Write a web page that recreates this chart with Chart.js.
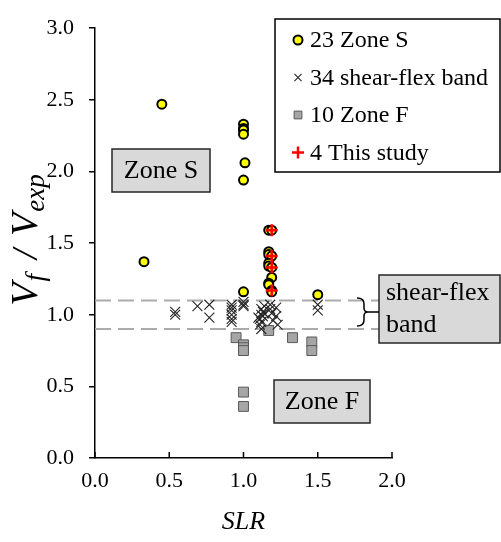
<!DOCTYPE html>
<html><head><meta charset="utf-8">
<script src="https://cdn.jsdelivr.net/npm/chart.js@4.4.1/dist/chart.umd.min.js"></script>
<style>html,body{margin:0;padding:0;background:#fff}#wrap{width:501px;height:542px;position:relative}</style>
</head><body><div id="wrap"><canvas id="c" width="501" height="542"></canvas></div>
<script>
// ---- data ----
const legendLabels = ['23 Zone S', '34 shear-flex band', '10 Zone F', '4 This study'];
const xTicks = [0.0, 0.5, 1.0, 1.5, 2.0];
const yTicks = [0.0, 0.5, 1.0, 1.5, 2.0, 2.5, 3.0];

const zoneS_x = [0.33, 0.45, 1.00, 1.00, 1.00, 1.00, 1.01, 1.00, 1.00,
                 1.17, 1.19, 1.17, 1.17, 1.19, 1.17, 1.17, 1.19, 1.19, 1.17, 1.17, 1.19, 1.19, 1.50];
const zoneS_y = [1.37, 2.47, 2.33, 2.30, 2.29, 2.26, 2.06, 1.94, 1.16,
                 1.59, 1.59, 1.44, 1.42, 1.41, 1.36, 1.34, 1.33, 1.26, 1.22, 1.21, 1.17, 1.16, 1.14];

const shear_x = [0.54, 0.54, 0.69, 0.77, 0.77,
                 0.92, 0.92, 0.92, 0.92, 0.92, 0.92,
                 1.00, 1.00, 1.00,
                 1.12, 1.13, 1.12, 1.13, 1.11, 1.12, 1.11, 1.12, 1.14, 1.14,
                 1.18, 1.18, 1.19, 1.22, 1.22, 1.23, 1.20,
                 1.50, 1.50, 1.10];
const shear_y = [1.02, 1.00, 1.06, 1.07, 0.98,
                 1.07, 1.05, 1.03, 1.00, 0.97, 0.95,
                 1.09, 1.06, 1.07,
                 1.04, 1.02, 1.00, 0.99, 0.97, 0.95, 0.93, 0.90, 1.06, 1.01,
                 1.07, 1.04, 1.01, 1.05, 0.99, 0.93, 0.96,
                 1.07, 1.03, 0.98];

const zoneF_x = [0.95, 1.00, 1.00, 1.00, 1.17, 1.33, 1.46, 1.46, 1.00, 1.00];
const zoneF_y = [0.84, 0.79, 0.77, 0.75, 0.89, 0.84, 0.81, 0.75, 0.46, 0.36];

const study_x = [1.19, 1.19, 1.19, 1.19];
const study_y = [1.59, 1.41, 1.33, 1.17];

const bandUpper = 1.1;
const bandLower = 0.9;
const bandXRange = [0.0, 1.92];

// ---- chart ----
const pts = (xs, ys) => xs.map((x, i) => ({x: x, y: ys[i]}));
const SERIF = '"Liberation Serif", "Times New Roman", serif';

const styles = [
  {pointStyle: 'circle', radius: 4.5, fill: '#ffff00', stroke: '#000000', bw: 2},
  {pointStyle: 'crossRot', radius: 7, fill: 'rgba(0,0,0,0)', stroke: '#262626', bw: 1.1},
  {pointStyle: 'rect', radius: 7, fill: '#a6a6a6', stroke: '#595959', bw: 1},
  {pointStyle: 'cross', radius: 6, fill: 'rgba(0,0,0,0)', stroke: '#ff0000', bw: 2.5}
];
const series = [pts(zoneS_x, zoneS_y), pts(shear_x, shear_y), pts(zoneF_x, zoneF_y), pts(study_x, study_y)];
const orders = [1, 2, 3, 0];

const datasets = series.map((d, i) => ({
  label: legendLabels[i], data: d, showLine: false,
  pointStyle: styles[i].pointStyle, pointRadius: styles[i].radius,
  pointBackgroundColor: styles[i].fill, pointBorderColor: styles[i].stroke,
  pointBorderWidth: styles[i].bw, order: orders[i]
}));
[bandUpper, bandLower].forEach(v => datasets.push({
  label: 'band', data: [{x: bandXRange[0], y: v}, {x: bandXRange[1], y: v}],
  showLine: true, borderColor: '#ababab', borderWidth: 2, borderDash: [16, 7],
  pointRadius: 0, order: 5
}));

function drawMarker(ctx, st, x, y, r) {
  ctx.save();
  ctx.fillStyle = st.fill; ctx.strokeStyle = st.stroke; ctx.lineWidth = st.bw;
  Chart.helpers.drawPoint(ctx, {pointStyle: st.pointStyle, radius: r, borderWidth: st.bw, rotation: 0}, x, y);
  ctx.restore();
}
function labelBox(ctx, x0, y0, x1, y1) {
  ctx.save();
  ctx.fillStyle = '#d9d9d9'; ctx.strokeStyle = '#262626'; ctx.lineWidth = 1.5;
  ctx.fillRect(x0, y0, x1 - x0, y1 - y0);
  ctx.strokeRect(x0, y0, x1 - x0, y1 - y0);
  ctx.restore();
}

const decor = {
  id: 'decor',
  afterDraw(chart) {
    const ctx = chart.ctx, xs = chart.scales.x, ys = chart.scales.y;
    const y0 = ys.getPixelForValue(0);
    // inward x tick marks
    ctx.save(); ctx.strokeStyle = '#000'; ctx.lineWidth = 1.5;
    xTicks.forEach(v => { const px = xs.getPixelForValue(v); ctx.beginPath(); ctx.moveTo(px, y0); ctx.lineTo(px, y0 - 6); ctx.stroke(); });
    ctx.restore();

    // x title
    ctx.save(); ctx.fillStyle = '#000'; ctx.font = 'italic 26px ' + SERIF;
    ctx.textAlign = 'center'; ctx.textBaseline = 'middle';
    ctx.fillText('SLR', (xs.left + xs.right) / 2, 522);
    ctx.restore();

    // y title with subscripts
    ctx.save(); ctx.fillStyle = '#000';
    ctx.translate(25, 240); ctx.rotate(-Math.PI / 2);
    const parts = [
      {t: 'V', s: 38, d: 0, g: 0}, {t: 'f', s: 27, d: 7, g: 1}, {t: '/', s: 36, d: 0, g: 15},
      {t: 'V', s: 38, d: 0, g: 13}, {t: 'exp', s: 27, d: 7, g: 1}
    ];
    let tot = 0;
    parts.forEach(p => { ctx.font = 'italic ' + p.s + 'px ' + SERIF; p.w = ctx.measureText(p.t).width; tot += p.w + p.g; });
    let cx = -tot / 2;
    ctx.textBaseline = 'alphabetic';
    parts.forEach(p => { ctx.font = 'italic ' + p.s + 'px ' + SERIF; cx += p.g; ctx.fillText(p.t, cx, 12 + p.d); cx += p.w; });
    ctx.restore();

    // zone boxes
    ctx.save(); ctx.font = '26px ' + SERIF; ctx.fillStyle = '#000';
    labelBox(ctx, 112, 149, 210, 192);
    ctx.textAlign = 'center'; ctx.textBaseline = 'middle'; ctx.fillStyle = '#000';
    ctx.fillText('Zone S', 161, 171);
    labelBox(ctx, 274, 380, 370, 423);
    ctx.fillStyle = '#000';
    ctx.fillText('Zone F', 322, 402);
    labelBox(ctx, 379, 275, 500, 343);
    ctx.fillStyle = '#000'; ctx.textAlign = 'left';
    ctx.fillText('shear-flex', 386, 293);
    ctx.fillText('band', 386, 325);
    ctx.restore();

    // brace
    ctx.save(); ctx.strokeStyle = '#000'; ctx.lineWidth = 1.5;
    ctx.beginPath();
    ctx.moveTo(357, 298); ctx.quadraticCurveTo(364, 298, 364, 304);
    ctx.lineTo(364, 308); ctx.quadraticCurveTo(364, 312, 368, 312);
    ctx.quadraticCurveTo(364, 312, 364, 316);
    ctx.lineTo(364, 320); ctx.quadraticCurveTo(364, 326, 357, 326);
    ctx.moveTo(366, 312); ctx.lineTo(379, 312);
    ctx.stroke(); ctx.restore();

    // legend
    ctx.save();
    ctx.fillStyle = '#fff'; ctx.strokeStyle = '#000'; ctx.lineWidth = 1.5;
    ctx.fillRect(275, 19, 225, 153); ctx.strokeRect(275, 19, 225, 153);
    const lr = [4.5, 5, 5.5, 6];
    legendLabels.forEach((lab, i) => {
      const ly = 40 + i * 37.5;
      drawMarker(ctx, styles[i], 298, ly, lr[i]);
      ctx.fillStyle = '#000'; ctx.font = '24px ' + SERIF; ctx.textAlign = 'left'; ctx.textBaseline = 'middle';
      ctx.fillText(lab, 310, ly + 1);
    });
    ctx.restore();
  }
};

new Chart(document.getElementById('c'), {
  type: 'scatter',
  data: {datasets: datasets},
  options: {
    responsive: false, animation: false, events: [],
    layout: {padding: {top: 18, right: 109, left: 0, bottom: 0}},
    plugins: {legend: {display: false}, tooltip: {enabled: false}},
    scales: {
      x: {
        type: 'linear', min: 0, max: 2,
        afterBuildTicks: s => { s.ticks = xTicks.map(v => ({value: v})); },
        afterFit: s => { s.height = 84; },
        ticks: {callback: v => Number(v).toFixed(1), color: '#000', font: {family: SERIF, size: 22}, padding: 10, maxRotation: 0},
        grid: {display: false, drawTicks: false},
        border: {display: true, color: '#000', width: 1.5}
      },
      y: {
        type: 'linear', min: 0, max: 3,
        afterBuildTicks: s => { s.ticks = yTicks.map(v => ({value: v})); },
        afterFit: s => { s.width = 95; },
        ticks: {callback: v => Number(v).toFixed(1), color: '#000', font: {family: SERIF, size: 22}, padding: 15},
        grid: {drawOnChartArea: false, drawTicks: true, tickLength: 6, color: '#000', lineWidth: 1.5},
        border: {display: true, color: '#000', width: 1.5}
      }
    }
  },
  plugins: [decor]
});
</script></body></html>
